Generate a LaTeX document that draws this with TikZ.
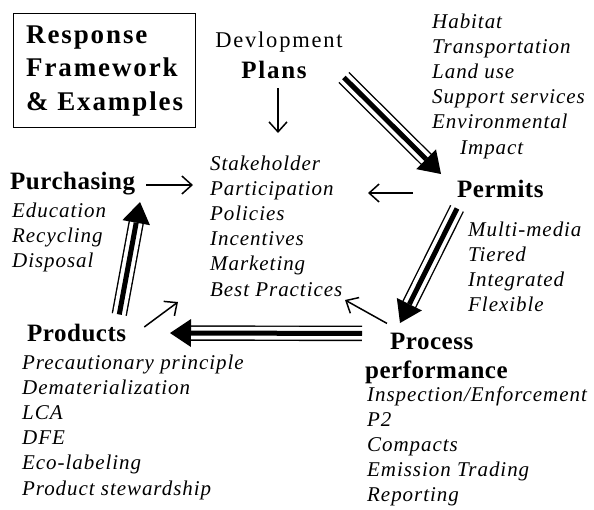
\documentclass[tikz,border=0pt]{standalone}
\usepackage{fontspec}
\setmainfont{Liberation Serif}
\usetikzlibrary{arrows.meta}

\begin{document}
\begin{tikzpicture}[x=1pt,y=-1pt,
    main node/.style={anchor=base west,inner sep=0pt,font=\fontsize{25}{30}\selectfont\bfseries\addfontfeature{LetterSpace=2}},
    list node/.style={anchor=base west,inner sep=0pt,font=\fontsize{21}{25.2}\selectfont\itshape\addfontfeature{LetterSpace=4.5}},
    title node/.style={draw,line width=1.2pt,align=left,inner sep=0pt,minimum width=182pt,minimum height=114pt,
                       font=\fontsize{27}{33.5}\selectfont\bfseries\addfontfeature{LetterSpace=7}},
    thin arrow/.style={line width=1.5pt,-{Straight Barb[length=10pt,width=18pt]}},
    big arrow/.style={line width=15.4pt,shorten >=20pt,
      postaction={draw,white,line width=12.6pt,shorten >=19pt,shorten <=-1pt},
      postaction={draw,black,line width=5pt,shorten >=0pt,shorten <=0pt,
                  -{Triangle[length=21pt,width=28pt,line width=0pt]}}}]
  \useasboundingbox (0,0) rectangle (594,509);

  \node[title node,anchor=north west] (title) at (13,13) {Response\\Framework\\\& Examples};

  \node[anchor=base,inner sep=0pt,font=\fontsize{22.5}{27}\selectfont\addfontfeature{LetterSpace=8}] (devlopment) at (279,47) {Devlopment};
  \node[anchor=base,inner sep=0pt,font=\fontsize{25}{30}\selectfont\bfseries\addfontfeature{LetterSpace=7}] (plans) at (274,78) {Plans};
  \node[main node] (permits) at (457,197) {Permits};
  \node[main node] (purchasing) at (10,189) {Purchasing};
  \node[main node] (products) at (27,341) {Products};
  \node[main node] (process) at (390,349) {Process};
  \node[main node] (performance) at (365,378) {performance};

  % examples
  \node[list node] (planlist) at (432,28) {\begin{tabular}[t]{@{}l@{}}
    Habitat\\Transportation\\Land use\\Support services\\Environmental\\\hspace*{28pt}Impact\end{tabular}};
  \node[list node] (permitlist) at (468,236) {\begin{tabular}[t]{@{}l@{}}
    Multi-media\\Tiered\\Integrated\\Flexible\end{tabular}};
  \node[list node] (hub) at (210,170) {\begin{tabular}[t]{@{}l@{}}
    Stakeholder\\Participation\\Policies\\Incentives\\Marketing\\Best Practices\end{tabular}};
  \node[list node] (purchaselist) at (12,217) {\begin{tabular}[t]{@{}l@{}}
    Education\\Recycling\\Disposal\end{tabular}};
  \node[list node] (productlist) at (22,369) {\begin{tabular}[t]{@{}l@{}}
    Precautionary principle\\Dematerialization\\LCA\\DFE\\Eco-labeling\\Product stewardship\end{tabular}};
  \node[list node] (processlist) at (367,401) {\begin{tabular}[t]{@{}l@{}}
    Inspection/Enforcement\\P2\\Compacts\\Emission Trading\\Reporting\end{tabular}};

  \coordinate (hubN) at (278,133);
  \coordinate (hubE) at (368,193);
  \coordinate (hubW) at (193,185);
  \coordinate (hubSW) at (178,302);
  \coordinate (hubSE) at (345,300);
  \coordinate (permitsin) at (441,174);
  \coordinate (processin) at (400,323);
  \coordinate (productsin) at (170,333);
  \coordinate (purchasingin) at (140,202);

  % into the centre
  \draw[thin arrow,shorten <=10pt] (plans.south -| hubN) -- (hubN);
  \draw[thin arrow,shorten <=44pt] (permits.west |- hubE) -- (hubE);
  \draw[thin arrow,shorten <=11pt] (purchasing.east |- hubW) -- (hubW);
  \draw[thin arrow] ([shift={(18,-5.5)}]products.east) -- (hubSW);
  \draw[thin arrow] ([shift={(-3,-9)}]process.north west) -- (hubSE);

  % the cycle
  \draw[big arrow] ([shift={(37,8)}]plans.east) -- (permitsin);
  \draw[big arrow] ([shift={(0,11)}]permits.south west) -- (processin);
  \draw[big arrow] ([shift={(-28,-7.5)}]process.west) -- (productsin);
  \draw[big arrow] ([shift={(-7,-9)}]products.north east) -- (purchasingin);
\end{tikzpicture}
\end{document}
